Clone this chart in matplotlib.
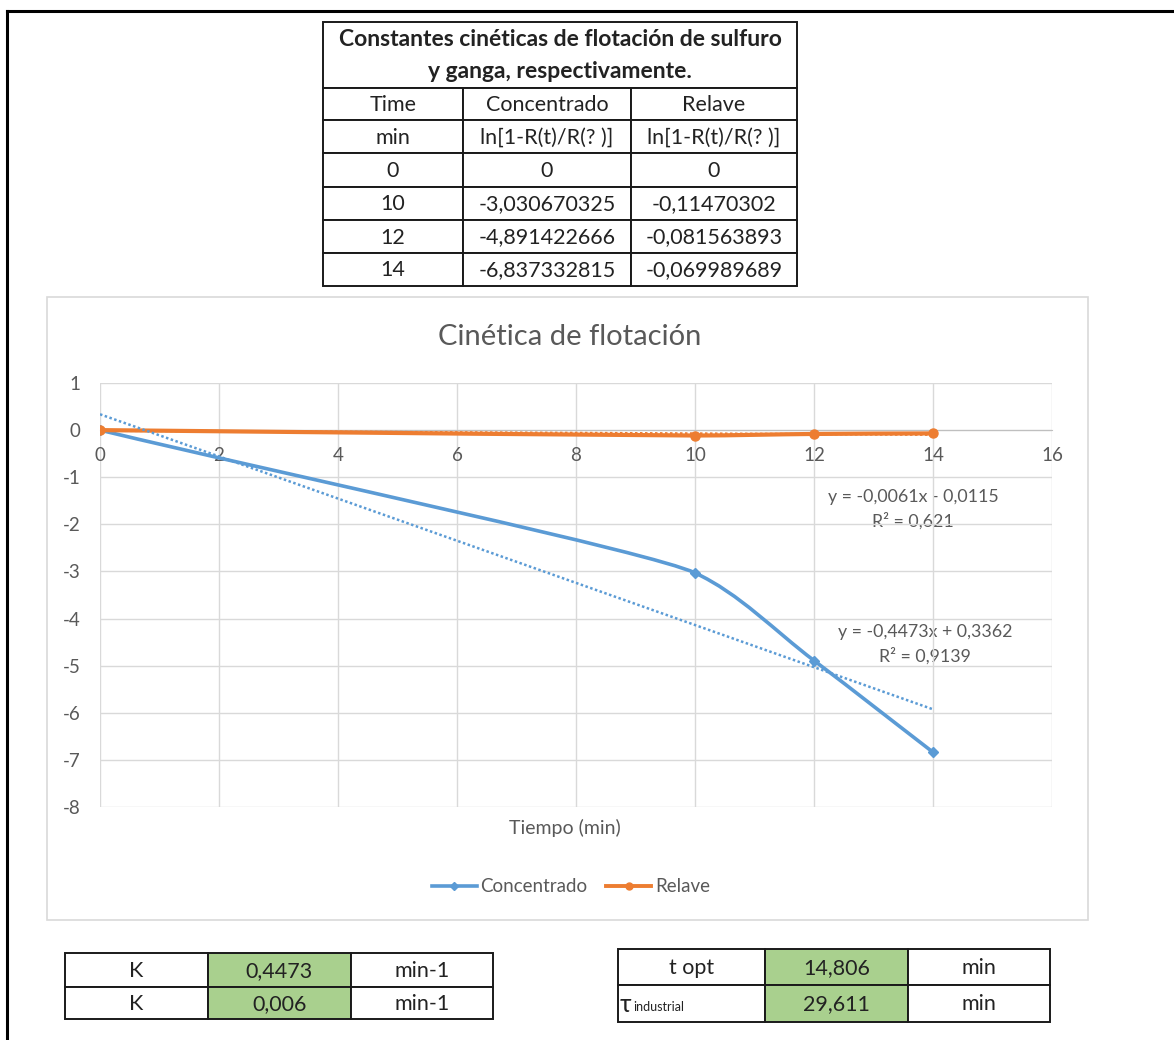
import matplotlib
matplotlib.use('Agg')
import matplotlib.pyplot as plt
import numpy as np
from matplotlib.path import Path
from matplotlib.patches import PathPatch, Rectangle
from matplotlib.lines import Line2D

plt.rcParams['font.family'] = ['Lato', 'DejaVu Sans']
plt.rcParams['axes.unicode_minus'] = False

# --- datos ---
tiempo = [0, 10, 12, 14]
concentrado = [0, -3.030670325, -4.891422666, -6.837332815]
relave = [0, -0.11470302, -0.081563893, -0.069989689]

tabla_titulo = ['Constantes cinéticas de flotación de sulfuro', 'y ganga, respectivamente.']
tabla_cols = ['Time', 'Concentrado', 'Relave']
tabla_unid = ['min', 'ln[1-R(t)/R(? )]', 'ln[1-R(t)/R(? )]']

k_nombres = ['K', 'K']
k_valores = [0.4473, 0.006]
k_unid = ['min-1', 'min-1']
t_valores = [14.806, 29.611]
t_unid = ['min', 'min']

AZUL = '#5b9bd5'
NARANJA = '#ed7d31'
GRIS = '#595959'
VERDE = '#a9d08e'
TINTA = '#222222'

W, H = 1174, 1040
fig = plt.figure(figsize=(W / 100, H / 100), dpi=100)

# capa de fondo en pixeles para tablas y recuadros
bg = fig.add_axes([0, 0, 1, 1])
bg.set_xlim(0, W)
bg.set_ylim(H, 0)
bg.axis('off')


def coma(v):
    return str(v).replace('.', ',')


def tabla(cols, filas, celdas, relleno=None, lw=1.4, size=15.5):
    # celdas: lista de filas, cada una lista de textos
    for r in range(len(filas) - 1):
        for c in range(len(cols) - 1):
            x0, x1 = cols[c], cols[c + 1]
            y0, y1 = filas[r], filas[r + 1]
            fc = 'white'
            if relleno and (r, c) in relleno:
                fc = relleno[(r, c)]
            bg.add_patch(Rectangle((x0, y0), x1 - x0, y1 - y0, facecolor=fc,
                                   edgecolor='#1a1a1a', lw=lw))
            txt = celdas[r][c]
            if txt:
                bg.text((x0 + x1) / 2, (y0 + y1) / 2 + 1, txt, ha='center', va='center',
                        fontsize=size, color=TINTA)


# marco de la hoja
bg.plot([7, W], [11, 11], color='black', lw=2.2)
bg.plot([7, 7], [11, H], color='black', lw=2.2)

# tabla superior
cols = [323, 463, 631, 797]
bg.add_patch(Rectangle((cols[0], 22), cols[-1] - cols[0], 66, facecolor='white',
                       edgecolor='#1a1a1a', lw=1.4))
bg.text((cols[0] + cols[-1]) / 2, 39, tabla_titulo[0], ha='center', va='center',
        fontsize=16.5, fontweight='bold', color=TINTA)
bg.text((cols[0] + cols[-1]) / 2, 71, tabla_titulo[1], ha='center', va='center',
        fontsize=16.5, fontweight='bold', color=TINTA)
filas = [88, 120, 153, 187, 220, 253, 286]
celdas = [tabla_cols, tabla_unid]
for t, c, r in zip(tiempo, concentrado, relave):
    celdas.append([coma(t), coma(c), coma(r)])
tabla(cols, filas, celdas)

# tablas inferiores
celdas_k = [[n, coma(v), u] for n, v, u in zip(k_nombres, k_valores, k_unid)]
tabla([65, 208, 351, 493], [953, 987, 1019], celdas_k,
      relleno={(0, 1): VERDE, (1, 1): VERDE})
celdas_t = [['t opt', coma(t_valores[0]), t_unid[0]],
            ['', coma(t_valores[1]), t_unid[1]]]
tabla([618, 765, 908, 1050], [949, 985, 1022], celdas_t,
      relleno={(0, 1): VERDE, (1, 1): VERDE})
bg.text(620, 1004, 'τ', fontsize=18, va='center', ha='left', color=TINTA)
bg.text(633, 1007, 'industrial', fontsize=9, va='center', ha='left', color=TINTA)

# recuadro del grafico
bg.add_patch(Rectangle((47, 297), 1088 - 47, 920 - 297, facecolor='white',
                       edgecolor='#d9d9d9', lw=1.2))

# --- grafico ---
ax = fig.add_axes([100 / W, 1 - 807 / H, (1052 - 100) / W, (807 - 383) / H])
ax.patch.set_visible(False)
ax.set_xlim(0, 16)
ax.set_ylim(-8, 1)
ax.set_xticks(range(0, 17, 2))
ax.set_yticks(range(-8, 2))
ax.grid(color='#d9d9d9', lw=1)
ax.set_axisbelow(True)
for s in ['left', 'top', 'right']:
    ax.spines[s].set_visible(False)
ax.spines['bottom'].set_position(('data', 0))
ax.spines['bottom'].set_color('#bfbfbf')
ax.tick_params(axis='x', length=0, pad=12, labelsize=13.5, labelcolor=GRIS)
ax.tick_params(axis='y', length=0, pad=14, labelsize=13.5, labelcolor=GRIS)


def unit(v):
    return v / np.hypot(*v)


def suave(xs, ys):
    # linea suavizada: Bezier cubicas calculadas en pixeles; en cada punto la
    # tangente es la media de las direcciones vecinas y el brazo es 1/3 del
    # tramo vecino mas corto
    pix = ax.transData.transform(np.column_stack([xs, ys]).astype(float))
    n = len(pix)
    largos = [np.hypot(*(pix[i + 1] - pix[i])) for i in range(n - 1)]
    tang, brazo = [], []
    for i in range(n):
        if i == 0:
            tang.append(unit(pix[1] - pix[0]))
            brazo.append(largos[0] / 3)
        elif i == n - 1:
            tang.append(unit(pix[-1] - pix[-2]))
            brazo.append(largos[-1] / 3)
        else:
            tang.append(unit(unit(pix[i] - pix[i - 1]) + unit(pix[i + 1] - pix[i])))
            brazo.append(min(largos[i - 1], largos[i]) / 3)
    verts = [pix[0]]
    codes = [Path.MOVETO]
    for i in range(n - 1):
        verts += [pix[i] + tang[i] * brazo[i], pix[i + 1] - tang[i + 1] * brazo[i + 1],
                  pix[i + 1]]
        codes += [Path.CURVE4] * 3
    return Path(ax.transData.inverted().transform(np.array(verts)), codes)


ax.add_patch(PathPatch(suave(tiempo, concentrado), facecolor='none', edgecolor=AZUL,
                       lw=2.6, capstyle='round', zorder=3))
ax.plot(tiempo, concentrado, 'D', color=AZUL, ms=5, zorder=3)
ax.add_patch(PathPatch(suave(tiempo, relave), facecolor='none', edgecolor=NARANJA,
                       lw=3, capstyle='round', zorder=4))
ax.plot(tiempo, relave, 'o', color=NARANJA, ms=6.5, zorder=4)

# lineas de tendencia
xt = np.array([tiempo[0], tiempo[-1]], dtype=float)
etiquetas = []
for ys, col in [(relave, NARANJA), (concentrado, AZUL)]:
    m, b = np.polyfit(tiempo, ys, 1)
    pred = np.polyval([m, b], tiempo)
    r2 = 1 - np.sum((np.array(ys) - pred) ** 2) / np.sum((np.array(ys) - np.mean(ys)) ** 2)
    ax.plot(xt, m * xt + b, linestyle=(0, (1, 1)), color=col, lw=1.8, zorder=5)
    signo = '+' if b >= 0 else '-'
    eq = f'y = {coma(round(m, 4))}x {signo} {coma(round(abs(b), 4))}'
    etiquetas.append((eq, f'R² = {coma(round(r2, 4))}'))

bg.text(913, 497, etiquetas[0][0], ha='center', va='center', fontsize=12.8, color=GRIS)
bg.text(913, 521, etiquetas[0][1], ha='center', va='center', fontsize=12.8, color=GRIS)
bg.text(925, 632, etiquetas[1][0], ha='center', va='center', fontsize=12.8, color=GRIS)
bg.text(925, 656, etiquetas[1][1], ha='center', va='center', fontsize=12.8, color=GRIS)

bg.text(570, 337, 'Cinética de flotación', ha='center', va='center', fontsize=21, color=GRIS)
bg.text(565, 828, 'Tiempo (min)', ha='center', va='center', fontsize=14, color=GRIS)

handles = [Line2D([], [], color=AZUL, lw=2.6, marker='D', ms=4.5),
           Line2D([], [], color=NARANJA, lw=2.8, marker='o', ms=5)]
fig.legend(handles, ['Concentrado', 'Relave'], loc='center', ncol=2, frameon=False,
           bbox_to_anchor=(571 / W, 1 - 887 / H), fontsize=13.5, labelcolor=GRIS,
           handlelength=2.4, columnspacing=1.0, handletextpad=0.2)

fig.savefig('out.png', dpi=100)
